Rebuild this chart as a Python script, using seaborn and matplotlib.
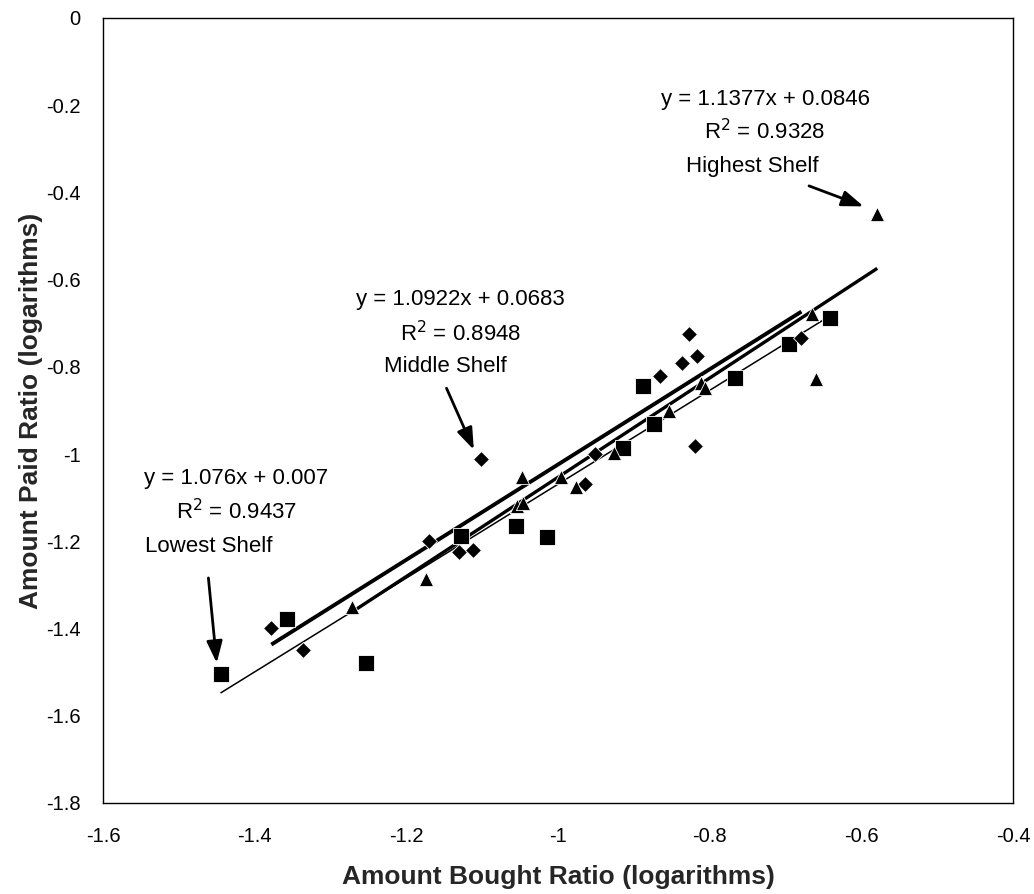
import matplotlib
matplotlib.use("Agg")
import matplotlib.pyplot as plt
import seaborn as sns
import numpy as np
import pandas as pd

# ---- data ----
lowest_x = [-1.445, -1.358, -1.253, -1.128, -1.055, -1.015, -0.914, -0.874, -0.888, -0.767, -0.695, -0.641]
lowest_y = [-1.504, -1.379, -1.479, -1.187, -1.164, -1.189, -0.986, -0.930, -0.843, -0.826, -0.748, -0.687]

middle_x = [-1.378, -1.336, -1.170, -1.130, -1.112, -1.101, -0.964, -0.951, -0.865, -0.837, -0.817, -0.827, -0.819, -0.679]
middle_y = [-1.398, -1.450, -1.200, -1.224, -1.221, -1.011, -1.068, -0.999, -0.820, -0.791, -0.775, -0.725, -0.982, -0.734]

highest_x = [-1.271, -1.174, -1.054, -1.046, -1.048, -0.996, -0.976, -0.926, -0.854, -0.812, -0.806, -0.665, -0.660, -0.579]
highest_y = [-1.350, -1.286, -1.118, -1.111, -1.053, -1.053, -1.075, -0.998, -0.901, -0.838, -0.848, -0.678, -0.828, -0.449]

shelves = ["Lowest Shelf", "Middle Shelf", "Highest Shelf"]
slopes = [1.076, 1.0922, 1.1377]
intercepts = [0.007, 0.0683, 0.0846]
r2_values = ["0.9437", "0.8948", "0.9328"]
eq_labels = ["y = 1.076x + 0.007", "y = 1.0922x + 0.0683", "y = 1.1377x + 0.0846"]

x_ticks = [-1.6, -1.4, -1.2, -1, -0.8, -0.6, -0.4]
y_ticks = [0, -0.2, -0.4, -0.6, -0.8, -1, -1.2, -1.4, -1.6, -1.8]
x_label = "Amount Bought Ratio (logarithms)"
y_label = "Amount Paid Ratio (logarithms)"

df = pd.concat([
    pd.DataFrame({"x": lowest_x, "y": lowest_y, "shelf": shelves[0]}),
    pd.DataFrame({"x": middle_x, "y": middle_y, "shelf": shelves[1]}),
    pd.DataFrame({"x": highest_x, "y": highest_y, "shelf": shelves[2]}),
], ignore_index=True)

sns.set_theme(style="white")
plt.rcParams["font.family"] = ["Liberation Sans", "DejaVu Sans"]

fig = plt.figure(figsize=(10.34, 8.94), dpi=100)
ax = fig.add_axes([0.0996, 0.1018, 0.8801, 0.8781])

# trendlines
lws = [1.1, 2.8, 2.4]
for i, sh in enumerate(shelves):
    sub = df[df.shelf == sh]
    xs = np.array([sub.x.min(), sub.x.max()])
    ax.plot(xs, slopes[i] * xs + intercepts[i], color="black", lw=lws[i], zorder=2,
            solid_capstyle="butt")

markers = {shelves[0]: "s", shelves[1]: "D", shelves[2]: "^"}
sizes = {shelves[0]: 140, shelves[1]: 65, shelves[2]: 105}
for sh in shelves:
    sub = df[df.shelf == sh]
    sns.scatterplot(data=sub, x="x", y="y", marker=markers[sh], s=sizes[sh],
                    color="black", edgecolor="white", linewidth=0.6, ax=ax,
                    legend=False, zorder=3)

# annotations
ann_pos = [(-1.424, -1.055, -1.131, -1.461, -1.211),
           (-1.129, -0.646, -0.723, -1.149, -0.799),
           (-0.727, -0.186, -0.260, -0.744, -0.341)]
arrows = [((-1.461, -1.284), (-1.450, -1.479)),
          ((-1.147, -0.849), (-1.111, -0.990)),
          ((-0.669, -0.385), (-0.597, -0.432))]
for i in range(3):
    ex, ey, ry, nx, ny = ann_pos[i]
    ax.text(ex, ey, eq_labels[i], ha="center", va="center", fontsize=16, color="black")
    ax.text(ex, ry, "R$^2$ = " + r2_values[i], ha="center", va="center", fontsize=16, color="black")
    ax.text(nx, ny, shelves[i], ha="center", va="center", fontsize=16, color="black")
    (sx, sy), (tx, ty) = arrows[i]
    ax.annotate("", xy=(tx, ty), xytext=(sx, sy),
                arrowprops=dict(arrowstyle="-|>,head_length=1.1,head_width=0.4",
                                color="black", lw=2.0, shrinkA=0, shrinkB=0))

ax.set_xlim(-1.6, -0.4)
ax.set_ylim(-1.8, 0)
ax.set_xticks(x_ticks)
ax.set_yticks(y_ticks)
ax.set_xticklabels([f"{t:g}" for t in x_ticks])
ax.set_yticklabels([f"{t:g}" for t in y_ticks])
ax.tick_params(axis="both", length=0, labelsize=14.5, colors="black")
ax.tick_params(axis="y", pad=16)
ax.tick_params(axis="x", pad=17)
for s in ax.spines.values():
    s.set_visible(True)
    s.set_color("black")
    s.set_linewidth(1.0)
ax.grid(False)

ax.set_xlabel(x_label, fontsize=19, fontweight="bold", labelpad=14)
ax.set_ylabel(y_label, fontsize=19, fontweight="bold", labelpad=2)

fig.savefig("out.png", dpi=100, facecolor="white")
